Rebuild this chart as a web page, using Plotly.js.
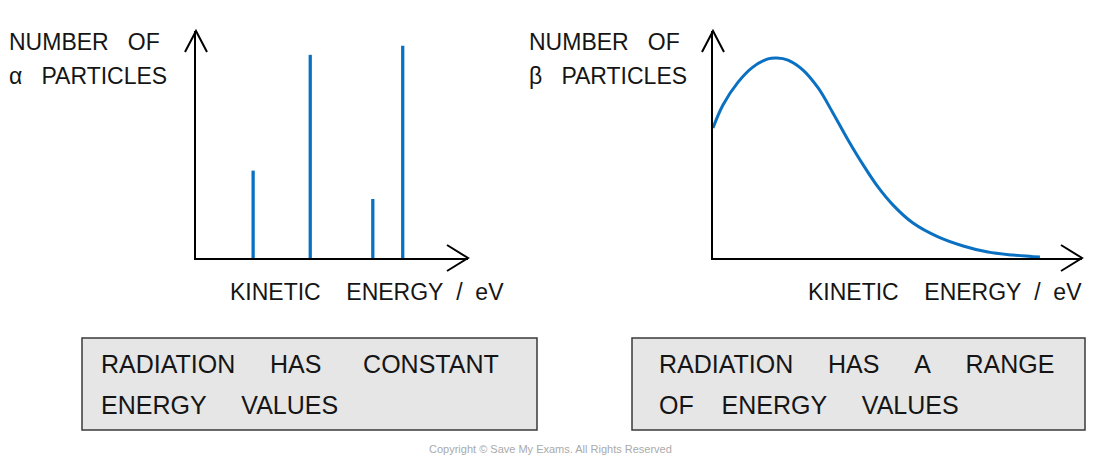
<!DOCTYPE html>
<html>
<head>
<meta charset="utf-8">
<script src="https://cdn.plot.ly/plotly-3.0.1.min.js"></script>
<style>html,body{margin:0;padding:0;background:#fff;}#chart{width:1100px;height:466px;}</style>
</head>
<body>
<div id="chart"></div>
<script>
// ---- data ----
const alphaEnergy = [2.1, 4.2, 6.5, 7.6];
const alphaCount = [3.85, 8.95, 2.6, 9.35];

const betaEnergy = [0, 0.27, 0.68, 1.08, 1.49, 1.73, 2.03, 2.44, 2.85, 3.25, 3.66, 4.07, 4.47, 4.88, 5.42, 6.10, 6.78, 7.45, 8.13, 8.86];
const betaCount  = [5.73, 6.74, 7.75, 8.41, 8.77, 8.81, 8.72, 8.28, 7.49, 6.39, 5.20, 4.10, 3.13, 2.33, 1.54, 0.93, 0.53, 0.26, 0.13, 0.04];

const NB = n => '\u00a0'.repeat(n);
const leftYLabel = ["NUMBER" + NB(3) + "OF", "\u03b1" + NB(3) + "PARTICLES"];
const rightYLabel = ["NUMBER" + NB(3) + "OF", "\u03b2" + NB(3) + "PARTICLES"];
const xLabel = "KINETIC" + NB(4) + "ENERGY" + NB(2) + "/" + NB(2) + "eV";
const leftBox = ["RADIATION" + NB(5) + "HAS" + NB(6) + "CONSTANT", "ENERGY" + NB(5) + "VALUES"];
const rightBox = ["RADIATION" + NB(5) + "HAS" + NB(5) + "A" + NB(5) + "RANGE", "OF" + NB(4) + "ENERGY" + NB(5) + "VALUES"];
const copyright = "Copyright \u00a9 Save My Exams. All Rights Reserved";

// ---- geometry helpers (pixel -> paper) ----
const W = 1100, H = 466;
const px = x => x / W;
const py = y => 1 - y / H;

const BLUE = '#0a70c2';
const FONT = 'Liberation Sans, Arial, sans-serif';
const TXT = '#151515';

const traces = [
  {type: 'bar', x: alphaEnergy, y: alphaCount, width: 0.12, marker: {color: BLUE, line: {width: 0}},
   xaxis: 'x', yaxis: 'y', hoverinfo: 'skip'},
  {type: 'scatter', mode: 'lines', x: betaEnergy, y: betaCount, line: {color: BLUE, width: 3, shape: 'spline', smoothing: 1},
   xaxis: 'x2', yaxis: 'y2', hoverinfo: 'skip'}
];

const axBase = {showgrid: false, zeroline: false, showticklabels: false, ticks: '', showline: true,
  linecolor: '#000', linewidth: 2, fixedrange: true, range: [0, 10]};

function chevronUp(x, y) {
  return {type: 'path', xref: 'paper', yref: 'paper',
    path: `M ${px(x-11)} ${py(y+21)} L ${px(x)} ${py(y)} L ${px(x+11)} ${py(y+21)}`,
    line: {color: '#000', width: 2}};
}
function chevronRight(x, y) {
  return {type: 'path', xref: 'paper', yref: 'paper',
    path: `M ${px(x-21)} ${py(y-13)} L ${px(x)} ${py(y)} L ${px(x-21)} ${py(y+13)}`,
    line: {color: '#000', width: 2}};
}
function box(x0, y0, x1, y1) {
  return {type: 'rect', xref: 'paper', yref: 'paper', x0: px(x0), x1: px(x1), y0: py(y1), y1: py(y0),
    fillcolor: '#e6e6e6', line: {color: '#3a3a3a', width: 1.5}, layer: 'below'};
}
function txt(text, x, y, size, anchor) {
  return {text: text, xref: 'paper', yref: 'paper', x: px(x), y: py(y), xanchor: anchor || 'left', yanchor: 'middle',
    showarrow: false, font: {family: FONT, size: size, color: TXT}};
}

const layout = {
  width: W, height: H, margin: {l: 0, r: 0, t: 0, b: 0},
  paper_bgcolor: '#fff', plot_bgcolor: 'rgba(0,0,0,0)', showlegend: false,
  xaxis: Object.assign({}, axBase, {domain: [px(196), px(468)], anchor: 'y'}),
  yaxis: Object.assign({}, axBase, {domain: [py(258), py(31)], anchor: 'x'}),
  xaxis2: Object.assign({}, axBase, {domain: [px(713), px(1082)], anchor: 'y2'}),
  yaxis2: Object.assign({}, axBase, {domain: [py(258), py(31)], anchor: 'x2'}),
  shapes: [
    chevronUp(196, 31), chevronRight(468, 258),
    chevronUp(713, 31), chevronRight(1082, 258),
    box(82, 338, 537, 430), box(632, 338, 1085, 430)
  ],
  annotations: [
    txt(leftYLabel[0], 7, 42, 23), txt(leftYLabel[1], 7, 76, 23),
    txt(rightYLabel[0], 527, 42, 23), txt(rightYLabel[1], 527, 76, 23),
    txt(xLabel, 228, 292, 23), txt(xLabel, 806, 292, 23),
    txt(leftBox[0], 99, 364, 25), txt(leftBox[1], 99, 405, 25),
    txt(rightBox[0], 657, 364, 25), txt(rightBox[1], 657, 405, 25),
    txt(copyright, 550, 449, 11, 'center')
  ]
};
layout.annotations[layout.annotations.length - 1].font.color = '#aaaaaa';

Plotly.newPlot('chart', traces, layout, {displayModeBar: false, staticPlot: true});
</script>
</body>
</html>
